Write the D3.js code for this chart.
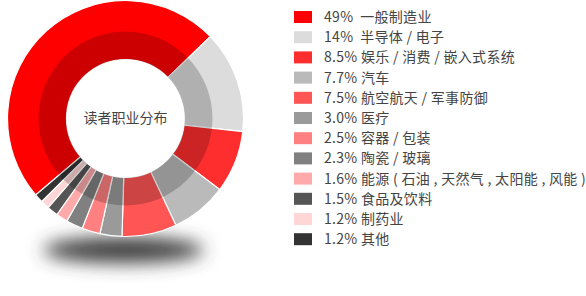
<!DOCTYPE html>
<html>
<head>
<meta charset="utf-8">
<script src="https://cdn.jsdelivr.net/npm/d3@7"></script>
<style>
    body { margin: 0; background: #fff; }
    svg { display: block; font-family: "Noto Sans CJK SC", "Noto Sans", sans-serif; }
</style>
</head>
<body>
<script>
// data
const categories = ["一般制造业", "半导体 / 电子", "娱乐 / 消费 / 嵌入式系统", "汽车", "航空航天 / 军事防御",
    "医疗", "容器 / 包装", "陶瓷 / 玻璃", "能源 ( 石油 , 天然气 , 太阳能 , 风能 )", "食品及饮料", "制药业", "其他"];
const values = [49, 14, 8.5, 7.7, 7.5, 3.0, 2.5, 2.3, 1.6, 1.5, 1.2, 1.2];
const valueLabels = ["49%  ", "14%  ", "8.5% ", "7.7% ", "7.5% ", "3.0% ", "2.5% ", "2.3% ", "1.6% ", "1.5% ", "1.2% ", "1.2% "];
const colors = ["#ff0000", "#dcdcdc", "#ff2e2e", "#bababa", "#ff5555", "#9a9a9a",
    "#ff8080", "#808080", "#ffaaaa", "#555555", "#ffd5d5", "#333333"];
const title = "读者职业分布";

const width = 586;
const height = 296;
const cx = 125.5, cy = 118.5;
const rOuter = 118, rMid = 87, rInner = 59;

const svg = d3.select('body')
    .append('svg')
    .attr('width', width)
    .attr('height', height);

const data = categories.map((c, i) => ({ name: c, value: values[i], label: valueLabels[i], color: colors[i] }));

// shadow under the ring
const defs = svg.append("defs");
defs.append("filter")
    .attr("id", "blur")
    .attr("x", "-50%").attr("y", "-100%")
    .attr("width", "200%").attr("height", "300%")
    .append("feGaussianBlur")
    .attr("stdDeviation", 9);

svg.append("ellipse")
    .attr("cx", cx - 2)
    .attr("cy", 250)
    .attr("rx", 80)
    .attr("ry", 13)
    .attr("fill", "#3c3c3c")
    .attr("filter", "url(#blur)");

const startAngle = -130.4 * Math.PI / 180;
const pie = d3.pie()
    .value(d => d.value)
    .sort(null)
    .startAngle(startAngle)
    .endAngle(startAngle + 2 * Math.PI);

const arcs = pie(data);

const g = svg.append("g")
    .attr("transform", `translate(${cx},${cy})`);

const outerArc = d3.arc().innerRadius(rInner).outerRadius(rOuter);

g.selectAll("path.slice")
    .data(arcs)
    .enter()
    .append("path")
    .attr("class", "slice")
    .attr("d", outerArc)
    .attr("fill", d => d.data.color)
    .attr("stroke", "#fff")
    .attr("stroke-width", 1.2);

// darker inner band laid over all slices
g.append("path")
    .attr("d", d3.arc().innerRadius(rInner).outerRadius(rMid).startAngle(0).endAngle(2 * Math.PI)())
    .attr("fill", "#000")
    .attr("fill-opacity", 0.2);

g.append("circle")
    .attr("r", rInner)
    .attr("fill", "#fff");

g.append("text")
    .attr("text-anchor", "middle")
    .attr("dy", "0.35em")
    .attr("font-size", 14)
    .attr("fill", "#444")
    .text(title);

// legend
const legend = svg.append("g")
    .attr("transform", "translate(294,17)");

const row = legend.selectAll("g")
    .data(data)
    .enter()
    .append("g")
    .attr("transform", (d, i) => `translate(0,${i * 20.2})`);

row.append("rect")
    .attr("x", 0)
    .attr("y", -6)
    .attr("width", 18)
    .attr("height", 12)
    .attr("fill", d => d.color);

row.append("text")
    .attr("x", 30)
    .attr("dy", "0.36em")
    .attr("font-size", 14)
    .attr("letter-spacing", 0.3)
    .attr("fill", "#444")
    .style("white-space", "pre")
    .text(d => d.label + d.name);
</script>
</body>
</html>
